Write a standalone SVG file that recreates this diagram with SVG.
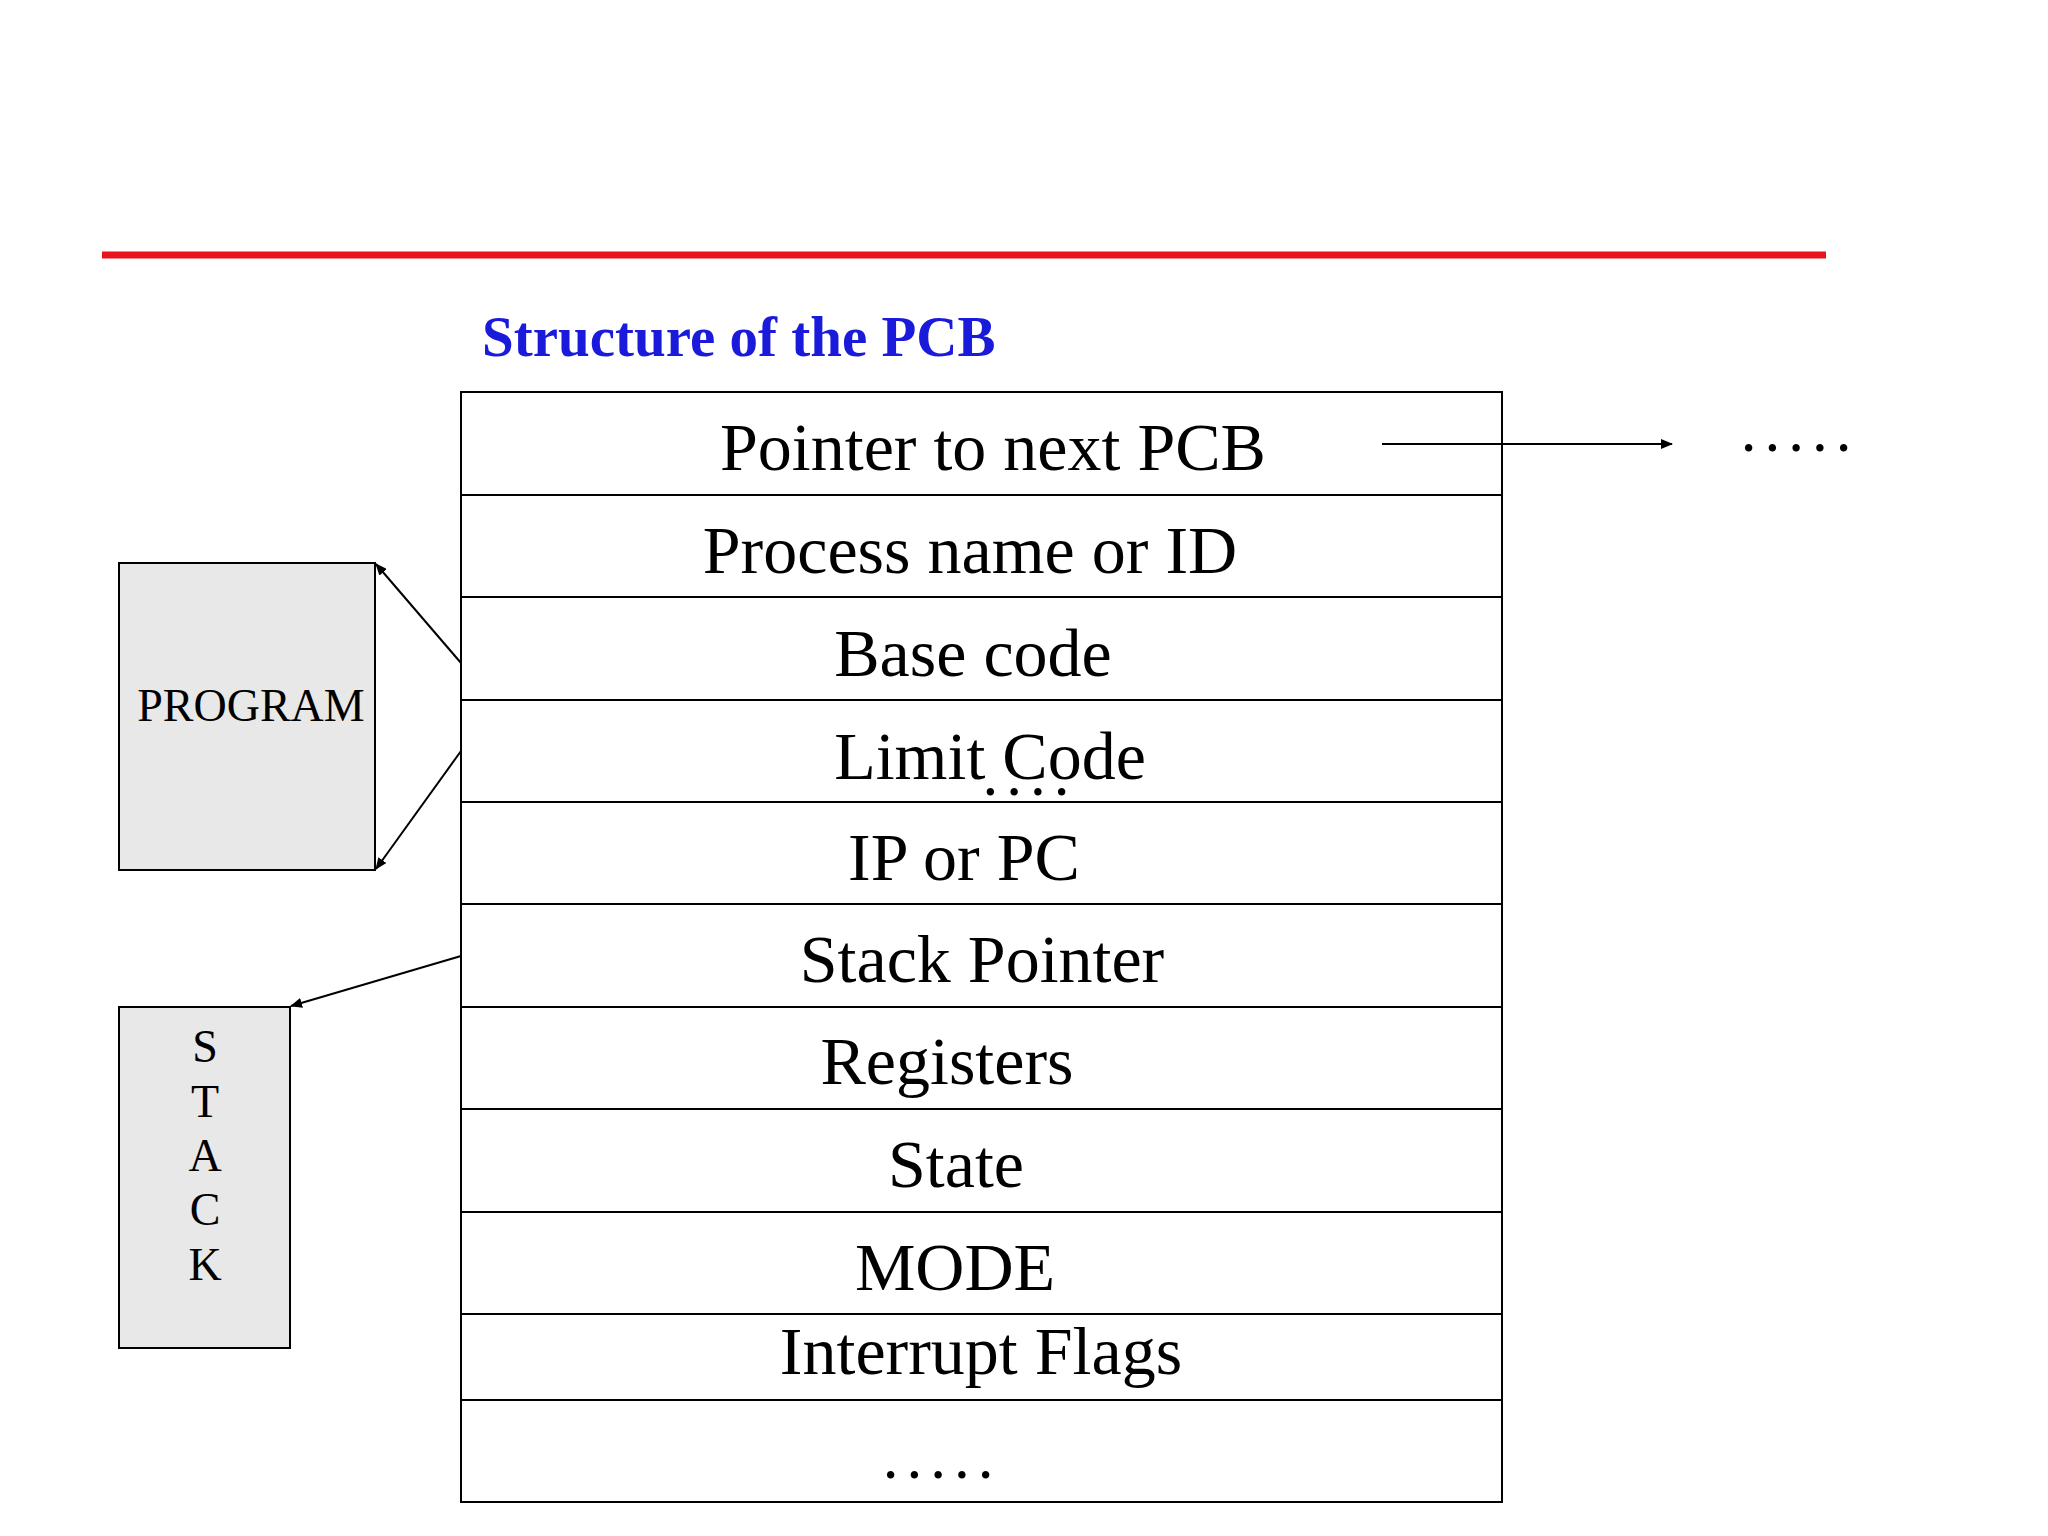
<svg xmlns="http://www.w3.org/2000/svg" width="2048" height="1536" viewBox="0 0 2048 1536">
<style>
.row{fill:#fff;stroke:#000;stroke-width:2}
.t{font-family:"Liberation Serif",serif;font-size:68px;text-anchor:middle;fill:#000}
.d{font-family:"Liberation Serif",serif;font-size:63px;text-anchor:middle;fill:#000;letter-spacing:8px}
.s{font-family:"Liberation Serif",serif;font-size:46px;text-anchor:middle;fill:#000}
.box{fill:#e8e8e8;stroke:#000;stroke-width:2}
.c{stroke:#000;stroke-width:2;fill:none;marker-end:url(#a)}
</style>
<defs><marker id="a" markerWidth="12" markerHeight="10" refX="11" refY="5" orient="auto" markerUnits="userSpaceOnUse"><path d="M0,0L12,5L0,10z" fill="#000"/></marker></defs>
<rect width="2048" height="1536" fill="#fff"/>
<line x1="102" y1="255" x2="1826" y2="255" stroke="#e8141a" stroke-width="7"/>
<text x="482" y="356" font-family="Liberation Serif,serif" font-weight="bold" font-size="57" fill="#1a1adb">Structure of the PCB</text>
<g id="pcb">
<rect class="row" x="461" y="392" width="1041" height="103"/>
<rect class="row" x="461" y="495" width="1041" height="102"/>
<rect class="row" x="461" y="597" width="1041" height="103"/>
<rect class="row" x="461" y="700" width="1041" height="102"/>
<rect class="row" x="461" y="802" width="1041" height="102"/>
<rect class="row" x="461" y="904" width="1041" height="103"/>
<rect class="row" x="461" y="1007" width="1041" height="102"/>
<rect class="row" x="461" y="1109" width="1041" height="103"/>
<rect class="row" x="461" y="1212" width="1041" height="102"/>
<rect class="row" x="461" y="1314" width="1041" height="86"/>
<rect class="row" x="461" y="1400" width="1041" height="102"/>
<text class="t" x="993" y="470">Pointer to next PCB</text>
<text class="t" x="970" y="573">Process name or ID</text>
<text class="t" x="973" y="676">Base code</text>
<text class="t" x="990" y="779">Limit Code</text>
<text class="d" x="1030" y="795" font-size="44">....</text>
<text class="t" x="964" y="880">IP or PC</text>
<text class="t" x="982" y="982">Stack Pointer</text>
<text class="t" x="947" y="1084">Registers</text>
<text class="t" x="956" y="1187">State</text>
<text class="t" x="955" y="1290">MODE</text>
<text class="t" x="981" y="1374">Interrupt Flags</text>
<text class="d" x="942" y="1478">.....</text>
</g>
<g id="program"><rect class="box" x="119" y="563" width="256" height="307"/><text class="s" x="251" y="721">PROGRAM</text></g>
<g id="stack"><rect class="box" x="119" y="1007" width="171" height="341"/>
<text class="s" x="205" y="1062">S</text><text class="s" x="205" y="1117">T</text><text class="s" x="205" y="1171">A</text><text class="s" x="205" y="1225">C</text><text class="s" x="205" y="1280">K</text></g>
<g id="next"><text class="d" x="1800" y="451">.....</text></g>
<g id="connectors">
<line class="c" x1="1382" y1="444" x2="1672" y2="444"/>
<line class="c" x1="461" y1="663" x2="376" y2="564"/>
<line class="c" x1="461" y1="751" x2="376" y2="869"/>
<line class="c" x1="461" y1="956" x2="291" y2="1006"/>
</g>
</svg>
